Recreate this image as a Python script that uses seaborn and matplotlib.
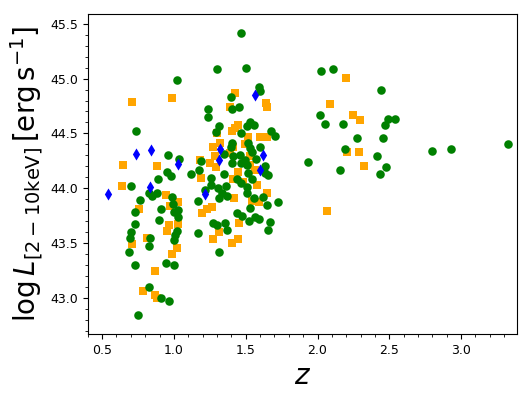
"""X-ray luminosity vs redshift scatter."""

import numpy as np
import pandas as pd
import matplotlib
matplotlib.use('Agg')
import matplotlib.pyplot as plt
from matplotlib.ticker import MultipleLocator
import seaborn as sns

# orange squares
orange_z = [0.635, 0.642, 0.709, 0.986, 0.882, 0.754, 0.945, 1.030, 0.972, 0.968,
            0.954, 0.810, 0.705, 1.030, 1.019, 0.986, 0.868, 0.786, 0.868, 0.882,
            1.189, 1.252, 1.293, 1.194, 1.233, 1.268, 1.275, 1.316, 1.403, 1.419,
            1.449, 1.449, 1.414, 1.577, 1.651, 1.543, 1.589, 1.456, 1.426, 1.642,
            1.651, 1.391, 1.426, 1.403, 1.449, 1.519, 1.601, 1.651, 1.298, 1.275,
            1.321, 1.182, 1.286, 1.391, 1.414, 1.496, 1.531, 1.484, 1.566, 1.531,
            2.196, 2.089, 2.247, 2.298, 2.206, 2.291, 2.324, 2.063]
orange_L = [44.02, 44.21, 44.79, 44.82, 44.20, 43.81, 43.94, 43.87, 43.84, 43.66,
            43.605, 43.55, 43.49, 43.67, 43.45, 43.40, 43.24, 43.06, 43.03, 43.00,
            44.09, 44.23, 44.19, 43.77, 43.81, 43.83, 43.54, 43.60, 43.50, 43.91,
            43.54, 44.15, 44.08, 44.03, 43.96, 43.88, 43.87, 43.68, 44.87, 44.78,
            44.745, 44.745, 44.55, 44.52, 44.58, 44.47, 44.47, 44.47, 44.50, 44.38,
            44.41, 44.26, 44.29, 44.32, 44.38, 44.40, 44.29, 44.06, 44.17, 44.21,
            45.01, 44.77, 44.67, 44.62, 44.33, 44.33, 44.20, 43.79]

# green circles
green_z = [1.021, 0.735, 0.961, 1.037, 0.954, 0.977, 0.891, 0.698, 0.828, 0.845,
           0.880, 0.763, 0.728, 0.908, 0.984, 0.995, 1.002, 1.030, 1.030, 0.894,
           0.728, 0.698, 0.693, 1.019, 1.007, 1.002, 0.833, 0.826, 0.684, 0.728,
           0.945, 0.998, 0.828, 0.908, 0.968, 0.751,
           1.303, 1.466, 1.503, 1.594, 1.600, 1.398, 1.403, 1.454, 1.240, 1.234,
           1.316, 1.293, 1.531, 1.508, 1.559, 1.468, 1.675, 1.705, 1.403, 1.400,
           1.519, 1.531, 1.600, 1.349, 1.414, 1.461, 1.496, 1.543, 1.573, 1.403,
           1.508, 1.635, 1.187, 1.177, 1.122, 1.256, 1.256, 1.347, 1.438, 1.468,
           1.519, 1.543, 1.508, 1.508, 1.310, 1.333, 1.314, 1.361, 1.368, 1.217,
           1.170, 1.561, 1.621, 1.647, 1.724, 1.531, 1.440, 1.473, 1.562, 1.589,
           1.525, 1.670, 1.653, 1.270, 1.298, 1.356, 1.368, 1.171, 1.314, 1.635,
           1.658, 1.466,
           1.932, 2.021, 2.108, 2.443, 2.019, 2.052, 2.175, 2.492, 2.538, 2.468,
           2.273, 2.454, 2.189, 2.154, 2.415, 2.478, 2.438, 2.796, 2.928, 3.326]
green_L = [44.99, 44.52, 44.30, 44.27, 44.15, 44.11, 44.08, 44.02, 43.955, 43.93,
           43.955, 43.89, 43.78, 43.81, 43.92, 43.86, 43.78, 43.80, 43.74, 43.71,
           43.67, 43.60, 43.55, 43.61, 43.57, 43.53, 43.55, 43.47, 43.42, 43.295,
           43.32, 43.30, 43.10, 43.00, 42.975, 42.84,
           45.09, 45.415, 45.10, 44.92, 44.89, 44.83, 44.72, 44.74, 44.72, 44.65,
           44.57, 44.51, 44.60, 44.57, 44.58, 44.50, 44.52, 44.48, 44.41, 44.38,
           44.41, 44.37, 44.38, 44.31, 44.29, 44.30, 44.26, 44.33, 44.27, 44.23,
           44.21, 44.20, 44.25, 44.17, 44.13, 44.09, 44.03, 44.13, 44.08, 44.05,
           44.14, 44.08, 44.01, 43.96, 44.00, 43.955, 43.91, 44.02, 43.93, 43.98,
           43.88, 43.915, 43.92, 43.85, 43.87, 43.82, 43.77, 43.75, 43.74, 43.72,
           43.70, 43.69, 43.62, 43.685, 43.66, 43.685, 43.62, 43.59, 43.42, 44.14,
           44.12, 44.23,
           44.24, 45.065, 45.09, 44.895, 44.67, 44.59, 44.59, 44.63, 44.63, 44.58,
           44.46, 44.46, 44.36, 44.17, 44.29, 44.19, 44.13, 44.335, 44.36, 44.40]

# blue diamonds
blue_z = [0.542, 0.735, 0.838, 1.026, 0.833, 1.217, 1.321, 1.312, 1.568, 1.620, 1.596]
blue_L = [43.95, 44.31, 44.35, 44.22, 44.01, 43.95, 44.36, 44.26, 44.855, 44.30, 44.17]

fig, ax = plt.subplots(figsize=(5.32, 3.99), dpi=100)
fig.subplots_adjust(left=0.165, right=0.972, bottom=0.163, top=0.965)

sns.scatterplot(x=orange_z, y=orange_L, color='orange', marker='s', s=38,
                linewidth=0, ax=ax)
sns.scatterplot(x=green_z, y=green_L, color='green', marker='o', s=38,
                linewidth=0, ax=ax)
sns.scatterplot(x=blue_z, y=blue_L, color='blue', marker='d', s=38,
                linewidth=0, ax=ax)

ax.set_xlim(0.40, 3.39)
ax.set_ylim(42.67, 45.59)
ax.xaxis.set_major_locator(MultipleLocator(0.5))
ax.xaxis.set_minor_locator(MultipleLocator(0.1))
ax.yaxis.set_major_locator(MultipleLocator(0.5))
ax.yaxis.set_minor_locator(MultipleLocator(0.1))
ax.tick_params(labelsize=9)

ax.set_xlabel(r'$z$', fontsize=20)
ax.set_ylabel(r'$\log L_{[2-10\rm keV]}\,[\rm erg\,s^{-1}]$', fontsize=20)

fig.savefig('out.png', dpi=100)
